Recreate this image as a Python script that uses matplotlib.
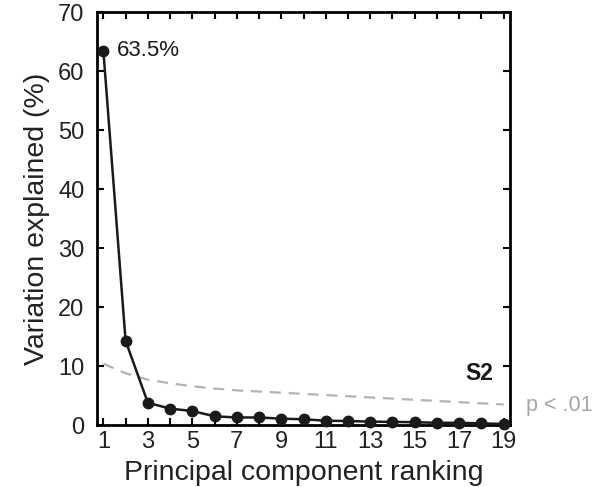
import numpy as np
import matplotlib.pyplot as plt

plt.rcParams['font.family'] = ['Liberation Sans', 'DejaVu Sans']

# percent variance explained per principal component
components = np.arange(1, 20)
var_explained = [63.5, 14.3, 3.8, 2.8, 2.4, 1.5, 1.3, 1.3, 1.1, 1.0,
                 0.75, 0.7, 0.6, 0.55, 0.5, 0.4, 0.4, 0.3, 0.2]
# significance threshold (p < .01)
threshold = [10.4, 8.8, 7.7, 7.1, 6.6, 6.2, 5.9, 5.7, 5.5, 5.3,
             5.1, 4.9, 4.7, 4.5, 4.3, 4.1, 3.9, 3.7, 3.5]

fig = plt.figure(figsize=(6.07, 4.87), dpi=100)
ax = fig.add_axes([0.16, 0.127, 0.68, 0.848])

ax.plot(components, threshold, color='#b3b3b3', lw=1.6, ls=(0, (5, 3.5)))
ax.plot(components, var_explained, color='#1a1a1a', lw=1.8, marker='o',
        markersize=7.5, clip_on=False, zorder=5)

ax.set_xlim(0.72, 19.28)
ax.set_ylim(0, 70)
ax.set_xticks(np.arange(1, 20, 2))
ax.set_xticks(np.arange(1, 20), minor=True)
ax.set_yticks(np.arange(0, 71, 10))

ax.tick_params(which='both', direction='in', top=True, right=True,
               width=1.5, length=5, labelsize=17, labelcolor='#222222')
ax.tick_params(axis='x', pad=4)
ax.tick_params(axis='y', pad=9)
for s in ax.spines.values():
    s.set_linewidth(2)

ax.set_xlabel('Principal component ranking', fontsize=20.5, labelpad=5,
              color='#222222')
ax.set_ylabel('Variation explained (%)', fontsize=20.5, labelpad=6,
              color='#222222')

ax.annotate(f'{var_explained[0]}%', (components[0], var_explained[0]),
            textcoords='offset points', xytext=(10, 0), va='center',
            fontsize=16, color='#1a1a1a')
ax.text(18.55, 8.8, 'S2', ha='right', va='center', fontsize=16.5,
        fontweight='bold', color='#1a1a1a')
ax.text(1.039, threshold[-1] - 0.1, 'p < .01', transform=ax.get_yaxis_transform(),
        ha='left', va='center', fontsize=15.5, color='#a6a6a6')

fig.savefig('out.png', dpi=100)
